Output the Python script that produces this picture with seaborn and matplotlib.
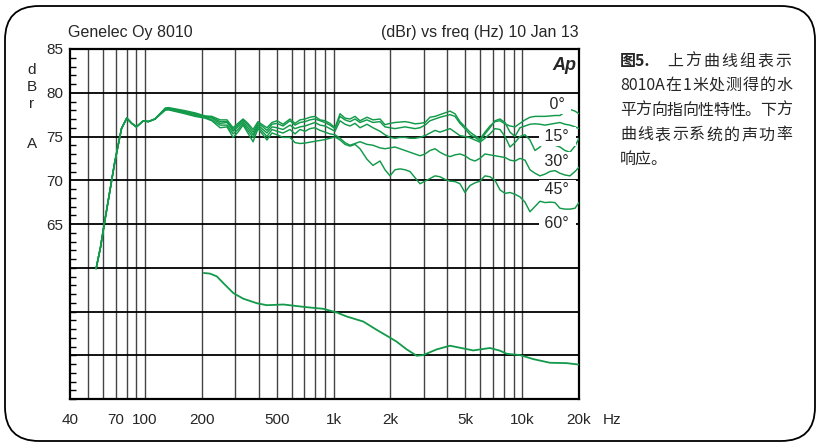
import matplotlib
matplotlib.use("Agg")
import matplotlib.pyplot as plt
import pandas as pd
import seaborn as sns
from matplotlib.patches import FancyBboxPatch
from matplotlib.ticker import MultipleLocator, NullLocator

# low-frequency part, the same for every angle
FREQ_LOW = [55, 58, 61, 69, 75, 80, 85, 90, 98, 104, 113]
DB_LOW = [59.9, 62.3, 65.2, 72.0, 75.9, 77.1, 76.5, 76.1, 76.8, 76.7, 77.0]

FREQ = [128, 133, 163, 184,
        208, 226, 250, 272, 293, 311, 331, 351, 374, 397,
        422, 443, 471, 501, 539, 587, 624, 663, 705, 749,
        796, 847, 900, 956, 1017, 1081, 1149, 1221, 1298, 1380,
        1502, 1617, 1761, 1872, 1990, 2115, 2248, 2390, 2540, 2700,
        2870, 3051, 3243, 3447, 3664, 3894, 4139, 4400, 4677, 4971,
        5284, 5616, 5970, 6345, 6745, 7169, 7621, 8100, 8610, 9152,
        9728, 10340, 10990, 11683, 12418, 13200, 14031, 14915, 15854, 16852,
        17913, 19041, 20000]

DB_0 = [78.25, 78.3, 77.95, 77.7,
        77.35, 77.3, 76.9, 76.9, 76.0, 76.5, 77.0, 76.5, 75.8, 76.7,
        76.3, 76.0, 76.6, 76.8, 76.4, 77.0, 76.5, 76.9, 77.0, 77.2,
        77.3, 76.9, 76.8, 76.5, 76.0, 77.6, 77.1, 77.0, 77.3, 76.8,
        77.2, 76.9, 77.0, 76.35, 76.5, 76.6, 76.65, 76.7, 76.6, 76.45,
        76.5, 76.6, 77.2, 77.3, 77.5, 77.7, 77.9, 77.6, 76.7, 76.1,
        75.5, 75.1, 74.7, 75.5, 76.2, 76.7, 76.8, 76.45, 76.2, 76.1,
        76.5, 76.9, 77.2, 77.3, 77.3, 77.3, 77.35, 77.4, 77.4, 77.8,
        78.1, 77.9, 77.6]
DB_15 = [78.2, 78.25, 77.85, 77.6,
         77.3, 77.2, 76.7, 76.7, 75.8, 76.3, 76.9, 76.3, 75.5, 76.5,
         76.1, 75.7, 76.4, 76.5, 76.2, 76.8, 76.3, 76.6, 76.7, 76.9,
         77.0, 76.8, 76.6, 76.3, 75.9, 77.3, 76.9, 76.7, 77.0, 76.6,
         76.9, 76.6, 76.7, 76.1, 76.0, 75.9, 76.0, 76.1, 76.0, 75.9,
         76.0, 76.3, 76.8, 77.0, 77.2, 77.35, 77.5, 77.3, 76.5, 75.9,
         75.2, 74.9, 74.5, 75.3, 76.0, 76.8, 77.0, 76.6, 75.5, 75.0,
         76.0, 76.2, 76.4, 76.45, 76.4, 76.3, 76.4, 76.5, 76.6, 76.4,
         76.3, 76.1, 75.9]
DB_30 = [78.15, 78.2, 77.8, 77.5,
         77.25, 77.1, 76.5, 76.6, 75.6, 76.1, 76.7, 76.0, 75.2, 76.3,
         75.8, 75.4, 76.1, 76.0, 75.8, 76.3, 75.9, 76.1, 76.2, 76.4,
         76.6, 76.3, 76.2, 75.9, 75.6, 76.8, 76.4, 76.2, 76.5, 76.0,
         76.4, 76.0, 75.6, 75.2, 74.9, 74.8, 74.9, 74.9, 74.8, 74.8,
         74.9, 75.1, 75.4, 75.7, 75.5, 75.7, 75.9, 75.5, 75.1, 75.0,
         74.85, 74.6, 74.35, 74.8, 75.3, 75.9, 75.8, 75.0, 73.8, 74.3,
         75.0, 75.2, 74.6, 73.4, 73.8, 74.5, 74.2, 74.0, 73.8, 73.4,
         73.2, 73.9, 74.8]
DB_45 = [78.1, 78.1, 77.7, 77.4,
         77.2, 76.9, 76.3, 76.3, 75.3, 75.8, 76.5, 75.7, 74.9, 76.1,
         75.5, 75.0, 75.8, 75.6, 75.4, 75.8, 75.3, 75.8, 75.6, 75.9,
         76.0, 75.7, 75.5, 75.3, 75.2, 74.8, 74.3, 74.0, 74.2, 74.4,
         74.1, 74.0, 73.7, 73.6, 73.7, 73.8, 73.6, 73.4, 73.2, 73.0,
         72.8, 73.0, 73.4, 73.6, 73.2, 72.9, 72.7, 72.9, 73.0, 72.8,
         72.4, 72.2, 72.5, 73.0, 72.9, 72.8, 72.7, 72.6, 72.3, 72.2,
         72.5, 72.3, 71.2, 70.8, 70.5, 70.7, 71.0, 71.1, 70.8, 70.6,
         70.5, 71.0, 71.5]
DB_60 = [78.0, 78.05, 77.6, 77.3,
         77.1, 76.8, 76.0, 76.1, 74.9, 75.5, 76.3, 75.4, 74.4, 75.9,
         75.2, 74.6, 75.4, 75.2, 74.9, 74.9, 74.3, 74.2, 74.25, 74.35,
         74.45, 74.55, 74.65, 74.8, 74.95, 74.6, 74.1, 73.9, 74.1, 73.6,
         72.4, 71.7, 72.2, 71.2, 70.5, 71.2, 71.3, 71.2, 71.0, 70.3,
         69.6, 69.9, 70.2, 70.5, 70.4, 70.1, 69.9, 69.85, 69.6, 68.6,
         69.4, 69.7, 69.9, 70.5, 70.4, 70.0, 68.9, 68.5, 68.6, 68.4,
         68.1, 67.5, 66.4, 67.0, 67.6, 67.45, 67.5, 67.45, 66.8, 66.7,
         66.7, 66.8, 67.45]

ANGLES = ["0°", "15°", "30°", "45°", "60°"]
LABEL_DB = [78.7, 75.0, 72.2, 69.0, 65.0]

# sound power response (lower panel)
PWR_FREQ = [205, 221, 240, 260, 294, 332, 391, 442, 541, 720, 881, 1038, 1173,
            1437, 1692, 1990, 2159, 2440, 2757, 2987, 3519, 4140, 4869, 5500,
            6745, 7621, 8273, 9728, 11444, 14031, 17208, 19824]
PWR_DB = [59.40, 59.33, 59.02, 58.25, 57.10, 56.46, 55.95, 55.72, 55.80, 55.49,
          55.31, 54.89, 54.43, 53.85, 52.90, 52.01, 51.55, 50.67, 49.94, 50.02,
          50.67, 51.09, 50.78, 50.55, 50.83, 50.52, 50.17, 50.02, 49.56, 49.14,
          49.10, 48.94]

XTICKS = [40, 70, 100, 200, 500, 1000, 2000, 5000, 10000, 20000]
XTICK_LABELS = ["40", "70", "100", "200", "500", "1k", "2k", "5k", "10k", "20k"]
YTICKS = [65, 70, 75, 80, 85]
HGRID = [50, 55, 60, 65, 70, 75, 80]
VGRID = [50, 60, 70, 80, 90, 100, 200, 300, 400, 500, 600, 700, 800, 900,
         1000, 2000, 3000, 4000, 5000, 6000, 7000, 8000, 9000, 10000]

NOTE_LINES = ["8010A在1米处测得的水", "平方向指向性特性。下方", "曲线表示系统的声功率"]

GREEN = "#129a4a"
CJK = ["Noto Sans CJK SC", "Liberation Sans"]
CJK_SIZE = 11.5

sns.set_style("white")
plt.rcParams["font.family"] = ["Liberation Sans", "Noto Sans CJK SC"]

curves = [DB_0, DB_15, DB_30, DB_45, DB_60]
df = pd.concat([pd.DataFrame({"freq": FREQ_LOW + FREQ, "db": DB_LOW + c, "angle": a})
                for a, c in zip(ANGLES, curves)], ignore_index=True)

fig = plt.figure(figsize=(8.2, 4.43), dpi=100)
fig.patch.set_facecolor("white")

# background layer in pixel coordinates
bg = fig.add_axes([0, 0, 1, 1], zorder=0)
bg.set_xlim(0, 820)
bg.set_ylim(443, 0)
bg.axis("off")
bg.add_patch(FancyBboxPatch((5, 6), 810, 435, boxstyle="round,pad=0,rounding_size=34",
                            fill=False, ec="black", lw=1.3))

ax = fig.add_axes([70 / 820, 44 / 443, 509 / 820, 350 / 443], zorder=1)
ax.patch.set_alpha(0)

sns.lineplot(data=df, x="freq", y="db", hue="angle", palette={a: GREEN for a in ANGLES},
             estimator=None, sort=False, legend=False, linewidth=1.05, ax=ax, zorder=3)
sns.lineplot(x=PWR_FREQ, y=PWR_DB, color=GREEN, linewidth=1.3, ax=ax, zorder=3)

ax.set_xscale("log")
ax.set_xlim(40, 20000)
ax.set_ylim(45, 85)
ax.set(xlabel="", ylabel="")

for v in HGRID:
    ax.axhline(v, color="black", lw=1.3, zorder=1.5)
for v in VGRID:
    ax.axvline(v, color="#444444", lw=1.0, zorder=1.4)

ax.set_xticks(XTICKS, labels=XTICK_LABELS)
ax.xaxis.set_minor_locator(NullLocator())
ax.set_yticks(YTICKS)
ax.yaxis.set_minor_locator(MultipleLocator(1))
ax.tick_params(axis="x", which="major", length=0, pad=10, labelsize=11)
ax.tick_params(axis="y", which="major", length=0, pad=5, labelsize=11)
ax.tick_params(axis="y", which="minor", left=True, length=4, width=1, direction="in",
               color="black")
for s in ax.spines.values():
    s.set_visible(True)
    s.set_color("black")
    s.set_linewidth(1.6)

for lab, yv in zip(ANGLES, LABEL_DB):
    ax.text(0.957, yv, " " + lab + " ", transform=ax.get_yaxis_transform(), ha="center",
            va="center", fontsize=11.5, zorder=5,
            bbox=dict(boxstyle="square,pad=0.12", facecolor="white", edgecolor="none"))

ax.text(0.994, 0.954, "Ap", transform=ax.transAxes, ha="right", va="center",
        fontsize=13, fontweight="bold", fontstyle="italic")

# header and axis captions
bg.text(68, 37, "Genelec Oy 8010", fontsize=11.5, ha="left", va="baseline")
bg.text(579, 37, "(dBr) vs freq (Hz) 10 Jan 13", fontsize=11.5, ha="right", va="baseline")
for ch, yb in zip("dBr", [74, 91, 108]):
    bg.text(32, yb, ch, fontsize=11, ha="center", va="baseline")
bg.text(32, 148, "A", fontsize=11, ha="center", va="baseline")
bg.text(612, 420, "Hz", fontsize=11, ha="center", va="center")

# Chinese caption, justified per line
renderer = fig.canvas.get_renderer()


def spread(tokens, x0, x1, y):
    ts = [bg.text(0, y, t, fontsize=CJK_SIZE, va="center", ha="left", family=CJK)
          for t in tokens]
    ws = [t.get_window_extent(renderer).width for t in ts]
    gap = (x1 - x0 - sum(ws)) / (len(ts) - 1)
    x = x0
    for t, w in zip(ts, ws):
        t.set_x(x)
        x += w + gap


bg.text(620, 61, "图5.", fontsize=CJK_SIZE, fontweight="bold", va="center", ha="left",
        family=CJK)
spread(list("上方曲线组表示"), 667, 791, 61)
spread(["8010A"] + list(NOTE_LINES[0][5:]), 620, 792, 85)
spread(list(NOTE_LINES[1]), 620, 792, 110)
spread(list(NOTE_LINES[2]), 620, 792, 135)
bg.text(620, 159, "响应。", fontsize=CJK_SIZE, va="center", ha="left", family=CJK)

fig.savefig("out.png", dpi=100, facecolor="white")
